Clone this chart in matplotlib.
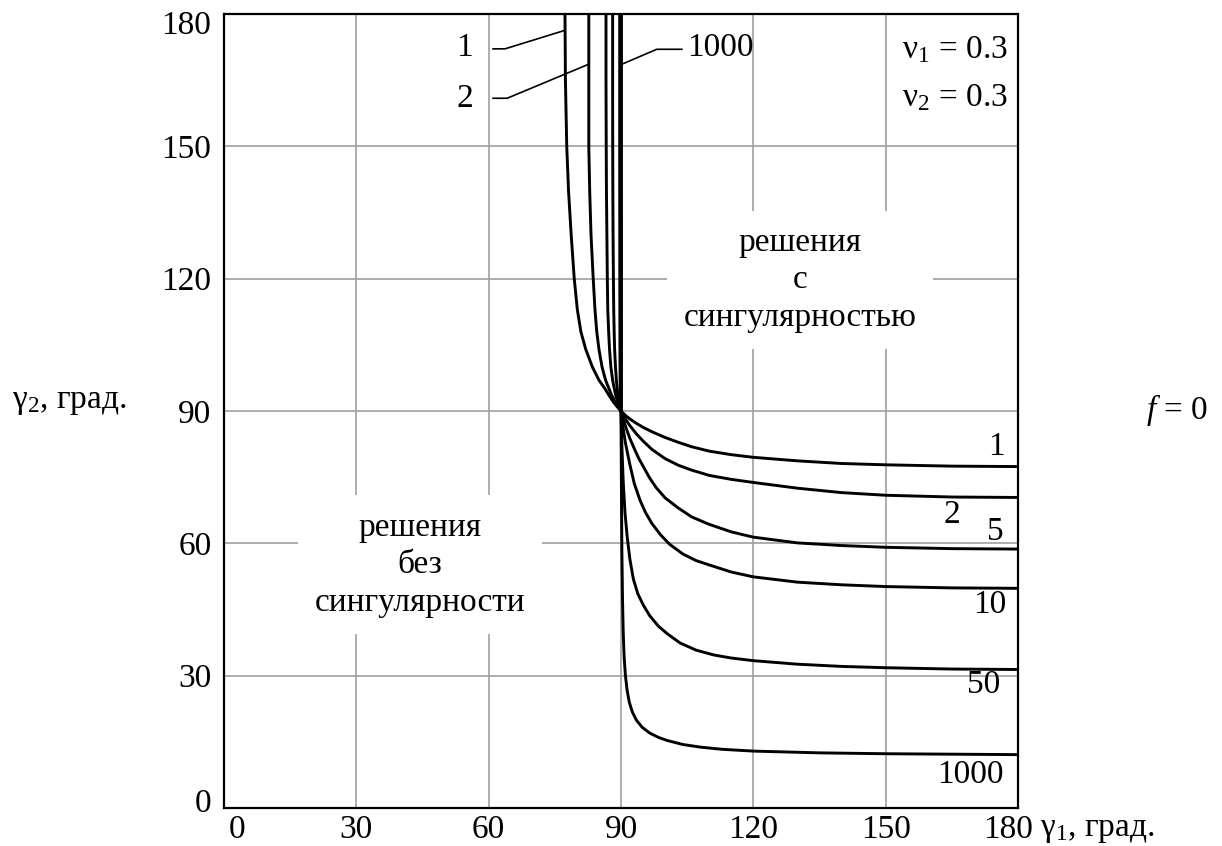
import numpy as np
import matplotlib
matplotlib.use('Agg')
from matplotlib import pyplot as plt
from matplotlib import transforms


plt.rcParams['font.family'] = ['Liberation Serif', 'DejaVu Serif']
plt.rcParams['mathtext.fontset'] = 'custom'
plt.rcParams['mathtext.rm'] = 'Liberation Serif'
plt.rcParams['mathtext.it'] = 'Liberation Serif:italic'


# curve parameter labels
params = ['1', '2', '5', '10', '50', '1000']

# lower-right branches (gamma1, gamma2)
k1_lo_x = [90, 91, 92, 93.5, 95, 97, 100, 103, 106, 110, 115, 120, 130, 140, 150, 165, 180]
k1_lo_y = [90, 89.0, 88.2, 87.2, 86.3, 85.3, 84.0, 82.9, 81.9, 80.9, 80.1, 79.5, 78.7, 78.1, 77.8, 77.5, 77.4]

k2_lo_x = [90, 91, 92, 93.5, 95, 97, 100, 103, 106, 110, 115, 120, 130, 140, 150, 165, 180]
k2_lo_y = [90, 88.2, 86.7, 84.8, 83.2, 81.3, 79.2, 77.7, 76.6, 75.4, 74.5, 73.8, 72.5, 71.5, 70.9, 70.5, 70.4]

k5_lo_x = [90, 91, 92, 93, 94, 95, 96.5, 98, 100, 103, 106, 110, 115, 120, 130, 140, 150, 165, 180]
k5_lo_y = [90, 86.6, 83.8, 81.5, 79.3, 77.5, 74.8, 72.6, 70.3, 68.0, 66.0, 64.3, 62.6, 61.4, 60.1, 59.5, 59.1, 58.8, 58.7]

k10_lo_x = [90, 90.5, 91, 92, 93, 94.3, 95.5, 97, 99, 101, 104, 107, 110, 115, 120, 130, 140, 150, 165, 180]
k10_lo_y = [90, 86.0, 82.8, 77.9, 73.6, 69.8, 67.1, 64.5, 61.9, 59.8, 57.6, 56.1, 55.1, 53.5, 52.4, 51.2, 50.6, 50.2, 49.9, 49.8]

k50_lo_x = [90, 90.2, 90.5, 90.9, 91.4, 92, 92.8, 93.8, 95, 96.5, 98.5, 100.5, 103.4, 107, 111, 115, 120,
            130, 140, 150, 165, 180]
k50_lo_y = [90, 82, 74, 67, 61.5, 56.5, 51.9, 48.6, 46.1, 43.6, 41.2, 39.5, 37.4, 35.8, 34.7, 34.0, 33.4,
            32.6, 32.1, 31.8, 31.5, 31.4]

k1000_lo_x = [90, 90.1, 90.2, 90.35, 90.5, 90.7, 91.0, 91.4, 91.9, 92.6, 93.5, 94.8, 96.5, 98.5, 100.5,
              104, 108, 113, 120, 135, 150, 165, 180]
k1000_lo_y = [90, 72, 58, 47, 40, 34.5, 30.0, 26.6, 23.9, 21.7, 19.9, 18.3, 17.0, 16.0, 15.3,
              14.4, 13.8, 13.3, 12.9, 12.5, 12.3, 12.2, 12.1]

# upper-left branches, all read at the same gamma2 levels
up_y = [90, 91, 92, 93.5, 95, 97, 100, 104, 108, 113, 120, 130, 140, 150, 165, 180]
k1_up_x = [90, 89.1, 88.3, 87.3, 86.4, 85.0, 83.5, 82.0, 80.9, 80.1, 79.4, 78.7, 78.1, 77.7, 77.4, 77.3]
k2_up_x = [90, 89.3, 88.7, 87.9, 87.3, 86.5, 85.7, 85.0, 84.5, 84.1, 83.7, 83.2, 82.9, 82.7, 82.7, 82.7]
k5_up_x = [90, 89.6, 89.25, 88.8, 88.5, 88.1, 87.7, 87.4, 87.2, 87.0, 86.9, 86.8, 86.7, 86.65, 86.6, 86.6]
k10_up_x = [90, 89.75, 89.55, 89.3, 89.15, 88.95, 88.75, 88.55, 88.45, 88.35, 88.28, 88.2, 88.15, 88.12,
            88.1, 88.1]
k50_up_x = [90, 89.95, 89.9, 89.85, 89.82, 89.8, 89.78, 89.76, 89.75, 89.74, 89.73, 89.72, 89.71, 89.7,
            89.7, 89.7]
k1000_up_x = [90, 90, 90, 90, 90, 90, 90, 90, 90, 90, 90, 90, 90, 90, 90, 90]

lower = [(k1_lo_x, k1_lo_y), (k2_lo_x, k2_lo_y), (k5_lo_x, k5_lo_y),
         (k10_lo_x, k10_lo_y), (k50_lo_x, k50_lo_y), (k1000_lo_x, k1000_lo_y)]
upper = [k1_up_x, k2_up_x, k5_up_x, k10_up_x, k50_up_x, k1000_up_x]

ticks = [0, 30, 60, 90, 120, 150, 180]

# label positions next to the curve ends
right_lbl_x = [175.2, 165.0, 174.8, 173.7, 172.2, 169.2]
right_lbl_y = [81.9, 66.4, 62.7, 46.0, 27.9, 7.5]

fs = 24

fig = plt.figure(figsize=(12.22, 8.46), dpi=100)
ax = fig.add_axes([224/1222, 38/846, 794/1222, 794/846])
ax.set_xlim(0, 180)
ax.set_ylim(0, 180)
ax.set_xticks(ticks)
ax.set_yticks(ticks)
ax.tick_params(length=0, labelsize=fs)
ax.tick_params(axis='x', pad=5)
ax.tick_params(axis='y', pad=9)
ax.grid(True, color='#a0a0a0', lw=1.2, zorder=0)
ax.set_axisbelow(True)
for s in ax.spines.values():
    s.set_linewidth(1.6)

# end tick labels are pulled inwards, as in the original
xl = ax.get_xticklabels()
yl = ax.get_yticklabels()
def shift(lbl, dx, dy):
    lbl.set_transform(lbl.get_transform() +
                      transforms.ScaledTranslation(dx/100, dy/100, fig.dpi_scale_trans))
shift(xl[0], 13, 0)
shift(xl[-1], -10, 0)
shift(yl[0], 0, 8)
shift(yl[-1], 0, -8)

for (lx, ly), ux in zip(lower, upper):
    ax.plot(lx, ly, '-', color='black', lw=2.1, zorder=3)
    ax.plot(ux, up_y, '-', color='black', lw=2.1, zorder=3)

for p, tx, ty in zip(params, right_lbl_x, right_lbl_y):
    ax.text(tx, ty, p, fontsize=fs, ha='center', va='center', zorder=4)

# leader labels at the top
ax.text(54.6, 172.3, '1', fontsize=fs, ha='center', va='center')
ax.plot([61.0, 63.7, 77.3], [172.1, 172.1, 176.3], color='black', lw=1.2)
ax.text(54.6, 160.9, '2', fontsize=fs, ha='center', va='center')
ax.plot([61.0, 64.2, 82.4], [160.9, 160.9, 168.5], color='black', lw=1.2)
ax.text(112.5, 172.3, '1000', fontsize=fs, ha='center', va='center')
ax.plot([103.8, 98.1, 90.4], [172.0, 172.0, 168.7], color='black', lw=1.2)

box = dict(facecolor='white', edgecolor='none', pad=12)
ax.text(130.6, 119.7, 'решения\nс\nсингулярностью', fontsize=fs, ha='center',
        va='center', linespacing=1.3, bbox=box, zorder=2)
ax.text(44.4, 55.1, 'решения\nбез\nсингулярности', fontsize=fs, ha='center',
        va='center', linespacing=1.3, bbox=box, zorder=2)

ax.text(177.6, 171.9, 'ν$_1$ = 0.3', fontsize=fs, ha='right', va='center',
        bbox=dict(facecolor='white', edgecolor='none', pad=2), zorder=2)
ax.text(177.6, 161.0, 'ν$_2$ = 0.3', fontsize=fs, ha='right', va='center',
        bbox=dict(facecolor='white', edgecolor='none', pad=2), zorder=2)

fig.text(12/1222, 1 - 402/846, 'γ$_2$, град.', fontsize=fs, ha='left', va='center')
fig.text(1040/1222, 1 - 830/846, 'γ$_1$, град.', fontsize=fs, ha='left', va='center')
fig.text(1146/1222, 1 - 410/846, '$f$ = 0', fontsize=fs, ha='left', va='center')

fig.savefig('out.png', dpi=100)
